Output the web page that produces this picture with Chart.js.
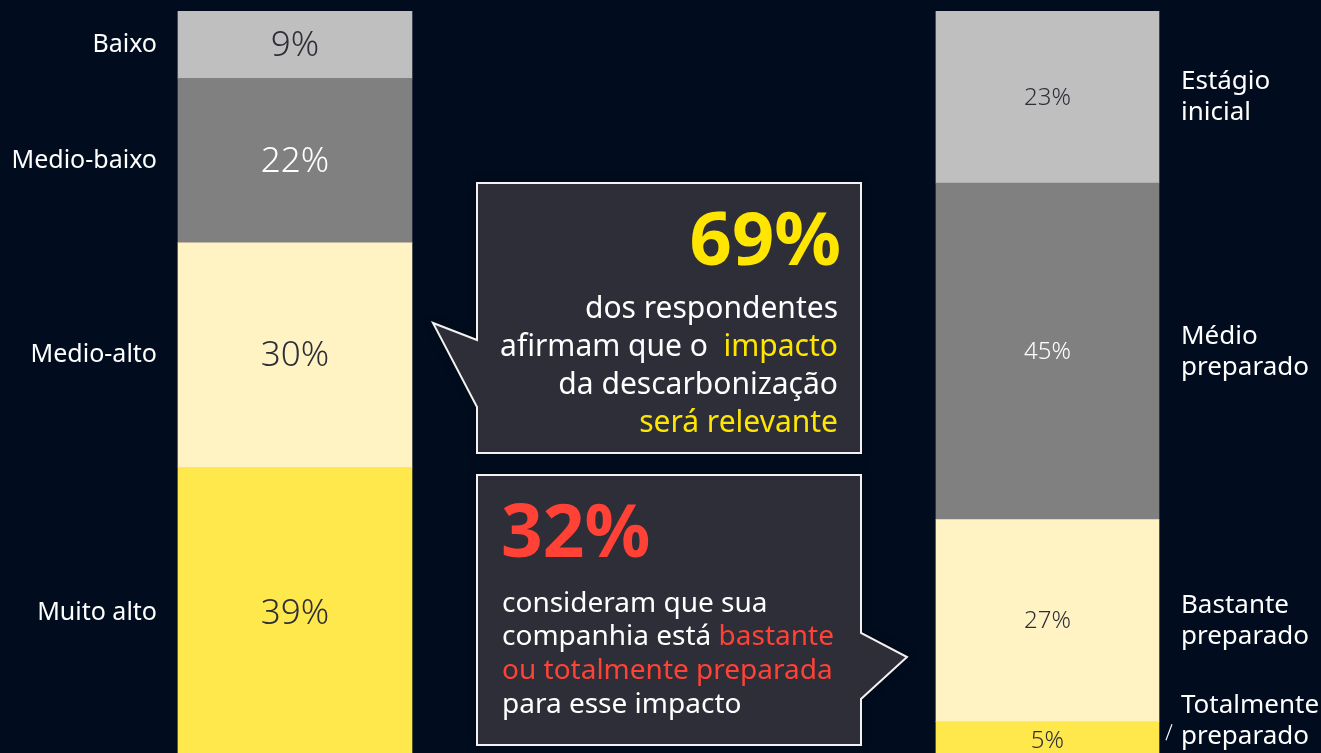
<!DOCTYPE html>
<html lang="pt-br">
<head>
    <meta charset="UTF-8">
    <title>Impacto da descarbonização</title>
    <script src="https://cdn.jsdelivr.net/npm/chart.js"></script>
    <style>
        html, body {
            margin: 0;
            padding: 0;
            background: #010d1f;
            overflow: hidden;
        }
        .chart-wrap {
            position: relative;
            width: 1321px;
            height: 759px;
        }
    </style>
</head>
<body>
    <div class="chart-wrap">
        <canvas id="grafico"></canvas>
    </div>

    <script>
        // Barra da esquerda: impacto da descarbonização (de baixo para cima)
        const categoriasImpacto = ['Muito alto', 'Medio-alto', 'Medio-baixo', 'Baixo'];
        const valoresImpacto = [39, 30, 22, 9];

        // Barra da direita: preparo da companhia (de baixo para cima)
        const categoriasPreparo = [['Totalmente', 'preparado'], ['Bastante', 'preparado'], ['Médio', 'preparado'], ['Estágio', 'inicial']];
        const valoresPreparo = [5, 27, 45, 23];

        const coresSegmentos = ['#ffe84c', '#fff3c4', '#808080', '#bfbfbf'];
        const coresTexto = ['#2e2e38', '#2e2e38', '#ffffff', '#2e2e38'];

        const FONTE = '"Noto Sans", "Open Sans", sans-serif';

        // Montar datasets: um por segmento, em cada barra
        const datasets = [];
        valoresImpacto.forEach((v, i) => {
            datasets.push({
                label: categoriasImpacto[i],
                data: [{ x: 0, y: v }],
                backgroundColor: coresSegmentos[i],
                barThickness: 234,
                lado: 'esq',
                idx: i
            });
        });
        valoresPreparo.forEach((v, i) => {
            datasets.push({
                label: categoriasPreparo[i].join(' '),
                data: [{ x: 1, y: v }],
                backgroundColor: coresSegmentos[i],
                barThickness: 223,
                lado: 'dir',
                idx: i
            });
        });

        // Texto com trechos de cores diferentes
        function textoColorido(ctx, partes, x, y, alinhar) {
            const total = partes.reduce((s, p) => s + ctx.measureText(p[0]).width, 0);
            let cx = alinhar === 'right' ? x - total : x;
            ctx.textAlign = 'left';
            partes.forEach(p => {
                ctx.fillStyle = p[1];
                ctx.fillText(p[0], cx, y);
                cx += ctx.measureText(p[0]).width;
            });
        }

        function balao(ctx, pontos) {
            ctx.save();
            ctx.beginPath();
            pontos.forEach((p, i) => i === 0 ? ctx.moveTo(p[0], p[1]) : ctx.lineTo(p[0], p[1]));
            ctx.closePath();
            ctx.shadowColor = 'rgba(0,0,0,0.6)';
            ctx.shadowBlur = 8;
            ctx.fillStyle = '#2e2e38';
            ctx.fill();
            ctx.shadowColor = 'transparent';
            ctx.strokeStyle = '#f2f2f2';
            ctx.lineWidth = 2;
            ctx.stroke();
            ctx.restore();
        }

        const rotulosPlugin = {
            id: 'rotulos',
            afterDatasetsDraw(chart) {
                const ctx = chart.ctx;
                ctx.save();
                ctx.textBaseline = 'middle';

                chart.data.datasets.forEach((ds, di) => {
                    const el = chart.getDatasetMeta(di).data[0];
                    const cy = (el.y + el.base) / 2;
                    const valor = ds.data[0].y;

                    // valor dentro da barra
                    ctx.fillStyle = coresTexto[ds.idx];
                    ctx.textAlign = 'center';
                    if (ds.lado === 'esq') {
                        ctx.font = '300 35px ' + FONTE;
                        ctx.fillText(valor + '%', el.x, cy + 1);
                    } else {
                        ctx.font = '300 24px ' + FONTE;
                        ctx.fillText(valor + '%', el.x, cy + 1);
                    }

                    // categoria
                    ctx.fillStyle = '#ffffff';
                    if (ds.lado === 'esq') {
                        ctx.font = '25px ' + FONTE;
                        ctx.textAlign = 'right';
                        ctx.fillText(ds.label, el.x - el.width / 2 - 21, cy);
                    } else {
                        ctx.font = '26px ' + FONTE;
                        ctx.textAlign = 'left';
                        const linhas = categoriasPreparo[ds.idx];
                        const tx = el.x + el.width / 2 + 22;
                        let ty = cy - 15;
                        if (ds.idx === 0) {
                            // segmento pequeno: rótulo acima com traço
                            ty = cy - 35;
                            ctx.strokeStyle = '#ffffff';
                            ctx.lineWidth = 1.2;
                            ctx.beginPath();
                            ctx.moveTo(el.x + el.width / 2 + 7, cy);
                            ctx.lineTo(el.x + el.width / 2 + 13, cy - 16);
                            ctx.stroke();
                        }
                        linhas.forEach((l, k) => ctx.fillText(l, tx, ty + k * 31));
                    }
                });
                ctx.restore();
            },
            afterDraw(chart) {
                const ctx = chart.ctx;
                ctx.save();

                // Balão 1
                balao(ctx, [[477, 183], [861, 183], [861, 453], [477, 453], [477, 407], [433, 323], [477, 340]]);
                ctx.textBaseline = 'alphabetic';
                ctx.font = 'bold 74px ' + FONTE;
                ctx.fillStyle = '#ffe600';
                ctx.textAlign = 'right';
                ctx.fillText('69%', 841, 265);
                ctx.font = '30px ' + FONTE;
                const branco = '#ffffff', amarelo = '#ffe600', vermelho = '#ff4136';
                textoColorido(ctx, [['dos respondentes', branco]], 838, 318, 'right');
                textoColorido(ctx, [['afirmam que o  ', branco], ['impacto', amarelo]], 838, 356, 'right');
                textoColorido(ctx, [['da descarbonização', branco]], 838, 394, 'right');
                textoColorido(ctx, [['será relevante', amarelo]], 838, 432, 'right');

                // Balão 2
                balao(ctx, [[477, 475], [861, 475], [861, 633], [907, 657], [861, 699], [861, 745], [477, 745]]);
                ctx.font = 'bold 73px ' + FONTE;
                ctx.fillStyle = vermelho;
                ctx.textAlign = 'left';
                ctx.fillText('32%', 501, 557);
                ctx.font = '28px ' + FONTE;
                textoColorido(ctx, [['consideram que sua', branco]], 502, 612, 'left');
                textoColorido(ctx, [['companhia está ', branco], ['bastante', vermelho]], 502, 645, 'left');
                textoColorido(ctx, [['ou totalmente preparada', vermelho]], 502, 679, 'left');
                textoColorido(ctx, [['para esse impacto', branco]], 502, 713, 'left');

                ctx.restore();
            }
        };

        new Chart(document.getElementById('grafico'), {
            type: 'bar',
            data: { datasets: datasets },
            options: {
                responsive: true,
                maintainAspectRatio: false,
                animation: false,
                layout: { padding: { top: 11, left: 0, right: 0, bottom: 0 } },
                scales: {
                    x: { type: 'linear', stacked: true, offset: false, min: -0.392, max: 1.3635, display: false },
                    y: { stacked: true, min: 0, max: 100, display: false }
                },
                plugins: {
                    legend: { display: false },
                    tooltip: { enabled: false }
                }
            },
            plugins: [rotulosPlugin]
        });
    </script>
</body>
</html>
